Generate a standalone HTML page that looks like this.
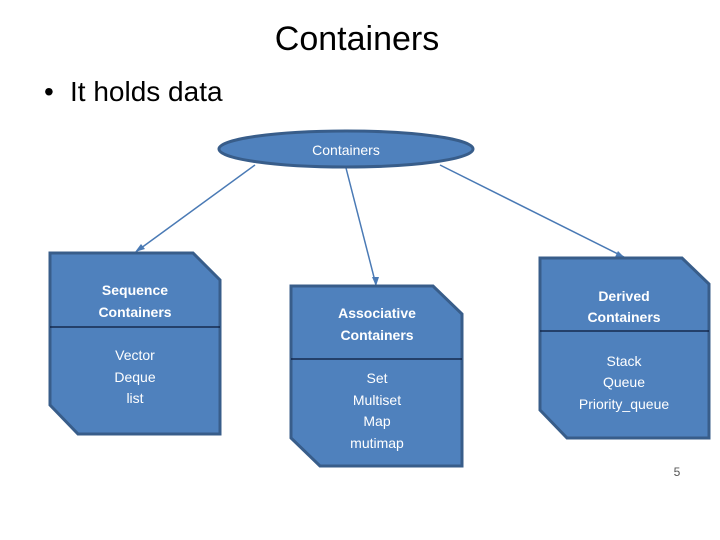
<!DOCTYPE html>
<html><head><style>body{margin:0;background:#fff}svg{display:block}</style></head>
<body>
<svg width="720" height="540" xmlns="http://www.w3.org/2000/svg" font-family="Liberation Sans, sans-serif">
<text x="357" y="50" font-size="34" text-anchor="middle" fill="#000">Containers</text>
<text x="44" y="101" font-size="28" fill="#000">•</text>
<text x="70" y="101" font-size="28" fill="#000">It holds data</text>
<g stroke="#4a7ab5" stroke-width="1.5" fill="none">
<line x1="255" y1="165" x2="137" y2="251"/>
<line x1="346" y1="168" x2="376" y2="285"/>
<line x1="440" y1="165" x2="624" y2="257"/>
</g>
<g fill="#4a7ab5">
<polygon points="135,252 141,244 145,249"/>
<polygon points="376,286 372,277 379,277"/>
<polygon points="625,258 615,257 618,251"/>
</g>
<ellipse cx="346" cy="149" rx="127" ry="18" fill="#4f81bd" stroke="#385d8a" stroke-width="3"/>
<text x="346" y="155" font-size="14" text-anchor="middle" fill="#fff">Containers</text>
<g fill="#4f81bd" stroke="#385d8a" stroke-width="3">
<polygon points="50,253 193,253 220,280 220,434 78,434 50,405"/>
<polygon points="291,286 433,286 462,314 462,466 320,466 291,438"/>
<polygon points="540,258 682,258 709,284 709,438 567,438 540,410"/>
</g>
<g stroke="#0a1a3a" stroke-width="1.2">
<line x1="50" y1="327" x2="220" y2="327"/>
<line x1="291" y1="359" x2="462" y2="359"/>
<line x1="540" y1="331" x2="709" y2="331"/>
</g>
<g fill="#fff" font-size="14" text-anchor="middle">
<g font-weight="bold">
<text x="135" y="295">Sequence</text><text x="135" y="317">Containers</text>
<text x="377" y="318">Associative</text><text x="377" y="340">Containers</text>
<text x="624" y="301">Derived</text><text x="624" y="322">Containers</text>
</g>
<text x="135" y="360">Vector</text><text x="135" y="382">Deque</text><text x="135" y="403">list</text>
<text x="377" y="383">Set</text><text x="377" y="405">Multiset</text><text x="377" y="426">Map</text><text x="377" y="448">mutimap</text>
<text x="624" y="366">Stack</text><text x="624" y="387">Queue</text><text x="624" y="409">Priority_queue</text>
</g>
<text x="677" y="476" font-size="12" text-anchor="middle" fill="#555">5</text>
</svg>
</body></html>
